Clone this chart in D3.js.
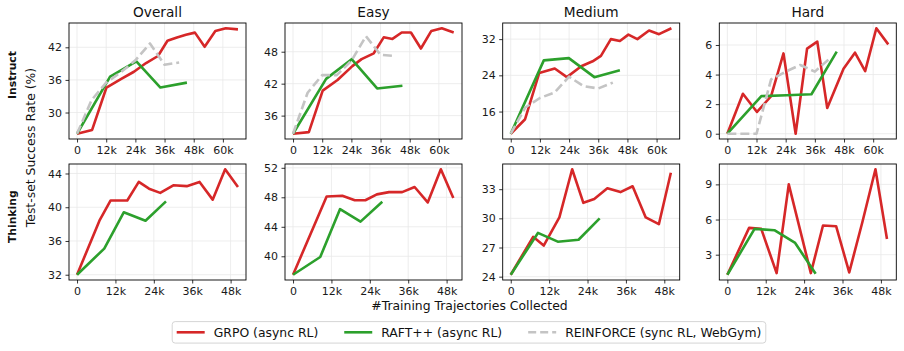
<!DOCTYPE html>
<html lang="en">
<head>
<meta charset="UTF-8">
<title>Test-set success rate vs trajectories collected</title>
<script src="https://cdnjs.cloudflare.com/ajax/libs/d3/7.8.5/d3.min.js"></script>
<style>
  body { margin: 0; background: #fff; }
  svg { display: block; font-family: "DejaVu Sans", sans-serif; }
  .grid line { stroke: #e8e8e8; stroke-width: 0.8; }
  .axis line { stroke: #000; stroke-width: 0.8; }
  .axis text { font-size: 11px; fill: #1a1a1a; font-family: "DejaVu Sans", sans-serif; }
</style>
</head>
<body>
<div id="chart"></div>
<script>
// x = thousands of training trajectories collected, y = success rate (%)

// ---- Instruct row ----
const instructOverallGrpo = [[0,26.1],[6.2,26.8],[12.1,34.6],[18.2,36.2],[23.4,37.5],[28.4,39.1],[33.3,40.4],[37.2,43.2],[41.1,43.8],[44.8,44.3],[48.5,44.7],[52.5,42.1],[56.9,45.0],[61.2,45.5],[66.2,45.3]];
const instructOverallRaft = [[0,26.1],[13.6,36.6],[24.4,39.4],[34.3,34.6],[45.2,35.5]];
const instructOverallReinforce = [[0,26.1],[6,32.3],[12,35.5],[18,37.4],[24,39.6],[30,42.7],[36,38.8],[42,39.2]];

const instructEasyGrpo = [[0,32.6],[6.5,32.9],[12.2,40.7],[18.3,42.7],[24.4,45.3],[28.2,46.6],[33.2,47.7],[37.3,50.7],[40.9,50.4],[44.7,51.6],[48.5,51.6],[52.6,48.6],[56.9,51.9],[61.2,52.4],[66.1,51.6]];
const instructEasyRaft = [[0,32.6],[13.6,42.9],[24.1,46.6],[34.6,41.1],[45,41.6]];
const instructEasyReinforce = [[0,32.6],[6,40.3],[12,43.6],[18,43.6],[24,46.3],[30,50.9],[36,47.4],[42,47.2]];

const instructMediumGrpo = [[0,11.1],[5.9,14.3],[11.7,24.5],[18.1,25.5],[23.1,23.6],[29,26],[33.7,27.1],[37.1,28.3],[41.2,32],[44.9,31.6],[48.4,33],[52.1,32],[56.9,33.9],[61,33.1],[66.1,34.4]];
const instructMediumRaft = [[0,11.1],[13.6,27.3],[23.9,27.8],[34.4,23.6],[44.9,25.1]];
const instructMediumReinforce = [[0,11.1],[6,16.9],[12,19],[18,20.2],[24,23.7],[30,21.6],[36,21.1],[42,22.4]];

const instructHardGrpo = [[0,0],[6.4,2.7],[12.2,1.47],[18,2.54],[23.1,5.43],[28.1,0],[32.8,5.75],[37,6.23],[41.1,1.74],[47.8,4.39],[52.5,5.48],[56.7,4.23],[61.3,7.13],[66.2,6.04]];
const instructHardRaft = [[0,0],[14,2.54],[24.4,2.6],[34.6,2.67],[45,5.55]];
const instructHardReinforce = [[0,0],[6,0],[12,0],[18,3.67],[24,4.2],[30,4.65],[36,4.2],[42,5.07]];

// ---- Thinking row ----
const thinkingOverallGrpo = [[0,32],[7,38.4],[10.5,40.8],[15.7,40.8],[19.3,43],[22.5,42.2],[26,41.7],[30.1,42.6],[34.3,42.5],[38.3,43],[42.4,40.9],[46.3,44.5],[50.3,42.4]];
const thinkingOverallRaft = [[0,32],[8.5,35.1],[14.6,39.4],[21.4,38.4],[27.8,40.7]];

const thinkingEasyGrpo = [[0,37.5],[10.5,48.1],[15.4,48.2],[19.3,47.6],[22.6,47.6],[26.2,48.4],[30,48.7],[34.1,48.7],[38,49.4],[42.1,47.3],[46.2,51.8],[50.1,47.9]];
const thinkingEasyRaft = [[0,37.5],[8.5,39.9],[14.7,46.4],[21.1,44.7],[27.9,47.4]];

const thinkingMediumGrpo = [[0,24.2],[7,28.1],[10.3,27.2],[15.2,30.1],[19.2,35.05],[22.7,31.6],[26.1,32],[30.2,33.1],[34.3,32.7],[38.1,33.3],[42.2,30.1],[46.3,29.4],[50.05,34.7]];
const thinkingMediumRaft = [[0,24.2],[8.5,28.5],[14.7,27.6],[21.2,27.8],[27.8,30]];

const thinkingHardGrpo = [[0,1.29],[6.8,5.29],[10.6,5.2],[15.4,1.43],[19.2,9],[26.1,1.43],[29.9,5.49],[34,5.43],[38.1,1.49],[42.2,5.77],[46.3,10.29],[49.9,4.34]];
const thinkingHardRaft = [[0,1.29],[8.5,5.2],[14.7,5.09],[21.2,4],[27.6,1.37]];

// ---- ticks and labels ----
const columnTitles = ["Overall", "Easy", "Medium", "Hard"];
const rowTitles = ["Instruct", "Thinking"];
const instructXTicks = [0, 12, 24, 36, 48, 60];
const thinkingXTicks = [0, 12, 24, 36, 48];
const instructYTicks = [[30, 36, 42], [36, 42, 48], [16, 24, 32], [0, 2, 4, 6]];
const thinkingYTicks = [[32, 36, 40, 44], [40, 44, 48, 52], [24, 27, 30, 33], [3, 6, 9]];
const seriesNames = ["GRPO (async RL)", "RAFT++ (async RL)", "REINFORCE (sync RL, WebGym)"];

const width = 904, height = 351;
const panelW = 177, panelH = 116;
const lefts = [69, 285, 502.7, 719.3];
const tops = [23, 164];

const styles = [
  { color: "#d62728", dash: null },
  { color: "#2ca02c", dash: null },
  { color: "#c4c4c4", dash: "9,4" }
];

const rows = [
  { xTicks: instructXTicks, yTicks: instructYTicks, panels: [
      [instructOverallGrpo, instructOverallRaft, instructOverallReinforce],
      [instructEasyGrpo, instructEasyRaft, instructEasyReinforce],
      [instructMediumGrpo, instructMediumRaft, instructMediumReinforce],
      [instructHardGrpo, instructHardRaft, instructHardReinforce]] },
  { xTicks: thinkingXTicks, yTicks: thinkingYTicks, panels: [
      [thinkingOverallGrpo, thinkingOverallRaft],
      [thinkingEasyGrpo, thinkingEasyRaft],
      [thinkingMediumGrpo, thinkingMediumRaft],
      [thinkingHardGrpo, thinkingHardRaft]] }
];

const svg = d3.select("#chart").append("svg")
    .attr("width", width).attr("height", height);

const fmtK = d => d === 0 ? "0" : d + "k";
function padded(ext) {
  const m = (ext[1] - ext[0]) * 0.05;
  return [ext[0] - m, ext[1] + m];
}

rows.forEach((row, ri) => {
  const allX = row.panels.flat(2).length ? row.panels.flat().flat().map(p => p[0]) : [];
  const xDom = padded(d3.extent(row.panels.flat().flat(), p => p[0]));

  row.panels.forEach((series, ci) => {
    const g = svg.append("g").attr("transform", `translate(${lefts[ci]},${tops[ri]})`);
    const x = d3.scaleLinear().domain(xDom).range([0, panelW]);
    const y = d3.scaleLinear().domain(padded(d3.extent(series.flat(), p => p[1]))).range([panelH, 0]);
    const yt = row.yTicks[ci];

    // grid
    const grid = g.append("g").attr("class", "grid");
    grid.selectAll(".gx").data(row.xTicks).join("line")
        .attr("x1", d => x(d)).attr("x2", d => x(d)).attr("y1", 0).attr("y2", panelH);
    grid.selectAll(".gy").data(yt).join("line")
        .attr("x1", 0).attr("x2", panelW).attr("y1", d => y(d)).attr("y2", d => y(d));

    const line = d3.line().x(p => x(p[0])).y(p => y(p[1]));
    series.forEach((s, si) => {
      g.append("path")
          .datum(s)
          .attr("d", line)
          .attr("fill", "none")
          .attr("stroke", styles[si].color)
          .attr("stroke-width", 2.6)
          .attr("stroke-linejoin", "round")
          .attr("stroke-dasharray", styles[si].dash);
    });

    g.append("rect")
        .attr("width", panelW).attr("height", panelH)
        .attr("fill", "none").attr("stroke", "#000").attr("stroke-width", 0.9);

    g.append("g").attr("class", "axis")
        .attr("transform", `translate(0,${panelH})`)
        .call(d3.axisBottom(x).tickValues(row.xTicks).tickFormat(fmtK).tickSize(3.5).tickPadding(3.5))
        .call(a => a.select(".domain").remove());
    g.append("g").attr("class", "axis")
        .call(d3.axisLeft(y).tickValues(yt).tickFormat(d3.format("d")).tickSize(3.5).tickPadding(3.5))
        .call(a => a.select(".domain").remove());

    if (ri === 0) {
      g.append("text")
          .attr("x", panelW / 2).attr("y", 16.7 - tops[0])
          .attr("text-anchor", "middle")
          .attr("font-size", 13.7).attr("fill", "#111")
          .text(columnTitles[ci]);
    }
  });
});

// row labels and shared y label
[[rowTitles[0], 75], [rowTitles[1], 216.7]].forEach(([t, cy]) => {
  svg.append("text")
      .attr("transform", `translate(11.7,${cy}) rotate(-90)`)
      .attr("dy", "0.36em")
      .attr("text-anchor", "middle")
      .attr("font-size", 10.8).attr("font-weight", "bold").attr("fill", "#111")
      .text(t);
});
svg.append("text")
    .attr("transform", "translate(30.7,147.5) rotate(-90)")
    .attr("dy", "0.36em")
    .attr("text-anchor", "middle")
    .attr("font-size", 12.4).attr("fill", "#111")
    .text("Test-set Success Rate (%)");

svg.append("text")
    .attr("x", 469.5).attr("y", 310)
    .attr("text-anchor", "middle")
    .attr("font-size", 12.4).attr("fill", "#111")
    .text("#Training Trajectories Collected");

// legend
const legend = svg.append("g");
const box = legend.append("rect")
    .attr("rx", 3).attr("fill", "#fff")
    .attr("stroke", "#d0d0d0").attr("stroke-width", 0.9);
let cx = 0;
seriesNames.forEach((name, i) => {
  legend.append("line")
      .attr("x1", cx).attr("x2", cx + 28).attr("y1", 0).attr("y2", 0)
      .attr("stroke", styles[i].color).attr("stroke-width", 2.6)
      .attr("stroke-dasharray", styles[i].dash ? "8,4" : null);
  const t = legend.append("text")
      .attr("x", cx + 37).attr("dy", "0.35em")
      .attr("font-size", 12.4).attr("fill", "#111")
      .text(name);
  cx += 37 + t.node().getComputedTextLength() + 26;
});
const legW = cx - 26;
box.attr("x", -4.5).attr("y", -10.7).attr("width", legW + 9).attr("height", 21.5);
legend.attr("transform", `translate(${469 - legW / 2},332.3)`);
</script>
</body>
</html>
